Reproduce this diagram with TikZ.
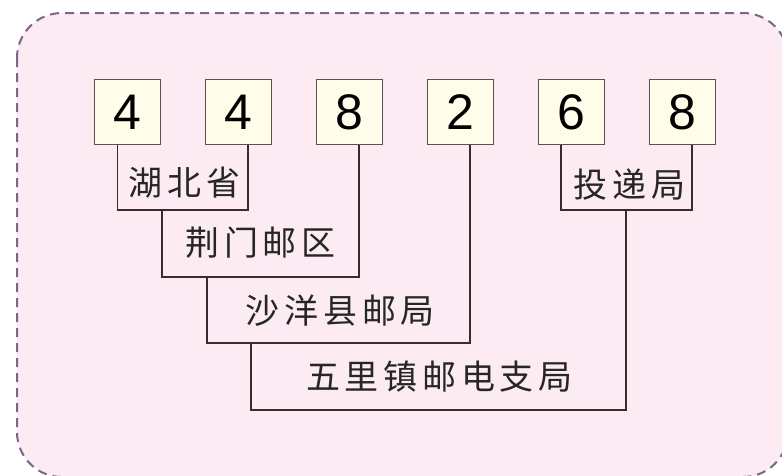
\documentclass[tikz,border=0pt]{standalone}
\usepackage{fontspec}
\newfontfamily\digitfont{Liberation Sans}
\newfontfamily\cjk[LetterSpace=14]{Noto Sans CJK SC}
\definecolor{panelfill}{HTML}{FCEBF3}
\definecolor{paneldash}{HTML}{7B6688}
\definecolor{boxfill}{HTML}{FFFDE9}
\definecolor{boxline}{HTML}{5E5050}
\definecolor{linkline}{HTML}{3A2C2C}
\begin{document}
\begin{tikzpicture}[x=1pt,y=-1pt,
  digitbox/.style={draw=boxline,line width=1pt,fill=boxfill,minimum width=66pt,minimum height=65pt,inner sep=0pt,font=\digitfont\fontsize{50}{50}\selectfont},
  cjklabel/.style={inner sep=0pt,font=\cjk\fontsize{34}{34}\selectfont,text=black!85,xshift=2.5pt},
  link/.style={draw=linkline,line width=1.8pt,line join=miter}]
\useasboundingbox (0,0) rectangle (782,475);
\begin{scope}
\clip (0,0) rectangle (782,475);
\draw[paneldash,fill=panelfill,line width=2pt,dash pattern=on 9pt off 6pt,rounded corners=45pt] (17,13) rectangle (788,477);
\end{scope}
% digit boxes
\node[digitbox] (d1) at (127.5,112) {4};
\node[digitbox] (d2) at (238,112) {4};
\node[digitbox] (d3) at (349,112) {8};
\node[digitbox] (d4) at (460,112) {2};
\node[digitbox] (d5) at (571,112) {6};
\node[digitbox] (d6) at (682,112) {8};
% junctions
\coordinate (b1) at (162,210);
\coordinate (b2) at (207,277);
\coordinate (b3) at (251,343);
\coordinate (b4) at (251,410);
\coordinate (b5) at (626,210);
% connectors
\draw[link] ([xshift=-10pt]d1.south) |- (b1) -| ([xshift=10pt]d2.south);
\draw[link] (b1) |- (b2) -| ([xshift=10pt]d3.south);
\draw[link] (b2) |- (b3) -| ([xshift=10pt]d4.south);
\draw[link] (b3) -- (b4) -| (b5);
\draw[link] ([xshift=-10pt]d5.south) |- (b5) -| ([xshift=10pt]d6.south);
% labels
\node[cjklabel] (l1) at (182,183) {湖北省};
\node[cjklabel] (l2) at (258,243) {荆门邮区};
\node[cjklabel] (l3) at (338,311) {沙洋县邮局};
\node[cjklabel] (l4) at (437,377) {五里镇邮电支局};
\node[cjklabel] (l5) at (627,185) {投递局};
\end{tikzpicture}
\end{document}
